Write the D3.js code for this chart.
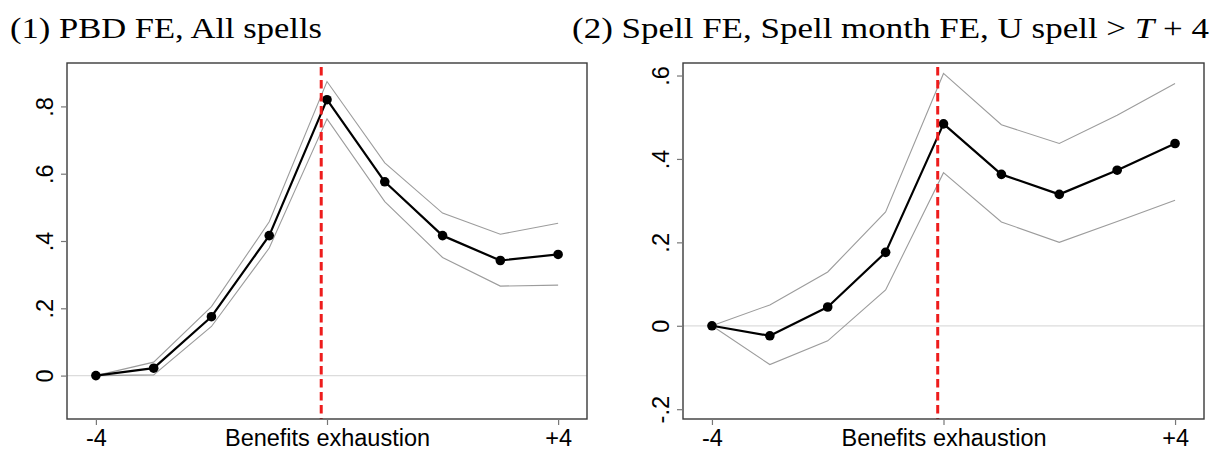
<!DOCTYPE html>
<html>
<head>
<meta charset="utf-8">
<script src="https://cdn.jsdelivr.net/npm/d3@7"></script>
<style>
  html, body { margin: 0; padding: 0; background: #fff; }
  svg { display: block; }
</style>
</head>
<body>
<svg id="chart" width="1220" height="451"></svg>
<script>
// Event time relative to benefits exhaustion (months)
const steps = [-4, -3, -2, -1, 0, 1, 2, 3, 4];
const xTickValues = [-4, 0, 4];
const xTickLabels = ["-4", "Benefits exhaustion", "+4"];
const exhaustionAt = -0.1;

// (1) PBD FE, all spells
const pbdEstimate = [0, 0.022, 0.175, 0.416, 0.820, 0.576, 0.416, 0.342, 0.360];
const pbdUpper    = [0, 0.040, 0.205, 0.457, 0.874, 0.632, 0.483, 0.420, 0.453];
const pbdLower    = [0, 0.002, 0.146, 0.379, 0.763, 0.517, 0.351, 0.266, 0.269];
const pbdYTicks = [0, 0.2, 0.4, 0.6, 0.8];
const pbdYTickLabels = ["0", ".2", ".4", ".6", ".8"];

// (2) Spell FE, spell month FE, long spells
const spellEstimate = [0, -0.024, 0.045, 0.176, 0.484, 0.363, 0.315, 0.373, 0.437];
const spellUpper    = [0, 0.050, 0.129, 0.273, 0.605, 0.482, 0.437, 0.505, 0.581];
const spellLower    = [0, -0.093, -0.036, 0.086, 0.367, 0.249, 0.200, 0.250, 0.301];
const spellYTicks = [-0.2, 0, 0.2, 0.4, 0.6];
const spellYTickLabels = ["-.2", "0", ".2", ".4", ".6"];

const svg = d3.select("#chart");
const tickFont = "'Liberation Sans', Arial, sans-serif";

const panels = [
  {
    box: { left: 67, right: 587, top: 63, bottom: 419 },
    yDomain: [-0.129, 0.929],
    est: pbdEstimate, upper: pbdUpper, lower: pbdLower,
    yTicks: pbdYTicks, yLabels: pbdYTickLabels
  },
  {
    box: { left: 683, right: 1204, top: 63, bottom: 419 },
    yDomain: [-0.2235, 0.63],
    est: spellEstimate, upper: spellUpper, lower: spellLower,
    yTicks: spellYTicks, yLabels: spellYTickLabels
  }
];

function drawPanel(p) {
  const b = p.box;
  const x = d3.scaleLinear().domain([-4.5, 4.5]).range([b.left, b.right]);
  const y = d3.scaleLinear().domain(p.yDomain).range([b.bottom, b.top]);
  const g = svg.append("g");

  // zero reference line
  g.append("line")
    .attr("x1", b.left).attr("x2", b.right)
    .attr("y1", y(0)).attr("y2", y(0))
    .attr("stroke", "#dcdcdc").attr("stroke-width", 1.2);

  const line = d3.line().x((d, i) => x(steps[i])).y(d => y(d));

  // confidence bounds
  [p.upper, p.lower].forEach(arr => {
    g.append("path").datum(arr)
      .attr("d", line)
      .attr("fill", "none")
      .attr("stroke", "#9c9c9c")
      .attr("stroke-width", 1.1);
  });

  // point estimates
  g.append("path").datum(p.est)
    .attr("d", line)
    .attr("fill", "none")
    .attr("stroke", "#000")
    .attr("stroke-width", 2.2)
    .attr("stroke-linejoin", "round");

  g.selectAll("circle.pt").data(p.est).enter()
    .append("circle")
    .attr("class", "pt")
    .attr("cx", (d, i) => x(steps[i]))
    .attr("cy", d => y(d))
    .attr("r", 4.8)
    .attr("fill", "#000");

  // benefits exhaustion marker
  g.append("line")
    .attr("x1", x(exhaustionAt)).attr("x2", x(exhaustionAt))
    .attr("y1", b.top + 4).attr("y2", b.bottom)
    .attr("stroke", "#ee1c1c")
    .attr("stroke-width", 3)
    .attr("stroke-dasharray", "8.5,4.5");

  // frame
  g.append("rect")
    .attr("x", b.left).attr("y", b.top)
    .attr("width", b.right - b.left).attr("height", b.bottom - b.top)
    .attr("fill", "none")
    .attr("stroke", "#3a3a3a")
    .attr("stroke-width", 1.4);

  // x axis
  const xAxis = d3.axisBottom(x)
    .tickValues(xTickValues)
    .tickFormat((d, i) => xTickLabels[i])
    .tickSize(6).tickPadding(4);
  const xg = g.append("g").attr("transform", `translate(0,${b.bottom})`).call(xAxis);
  xg.select(".domain").remove();
  xg.selectAll(".tick line").attr("stroke", "#777").attr("stroke-width", 1.2);
  xg.selectAll(".tick text")
    .attr("fill", "#000")
    .style("font-family", tickFont)
    .style("font-size", "23.5px");

  // y axis with rotated labels
  const yAxis = d3.axisLeft(y)
    .tickValues(p.yTicks)
    .tickFormat((d, i) => p.yLabels[i])
    .tickSize(6);
  const yg = g.append("g").attr("transform", `translate(${b.left},0)`).call(yAxis);
  yg.select(".domain").remove();
  yg.selectAll(".tick line").attr("stroke", "#777").attr("stroke-width", 1.2);
  yg.selectAll(".tick text")
    .attr("x", null).attr("dy", null)
    .attr("transform", "translate(-14,0) rotate(-90)")
    .attr("text-anchor", "middle")
    .attr("fill", "#000")
    .style("font-family", tickFont)
    .style("font-size", "23.5px");
}

panels.forEach(drawPanel);

// panel titles
const titleFont = "'Liberation Serif', 'Times New Roman', serif";
svg.append("text")
  .attr("x", 10).attr("y", 38)
  .attr("textLength", 312).attr("lengthAdjust", "spacingAndGlyphs")
  .style("font-family", titleFont).style("font-size", "29px")
  .text("(1) PBD FE, All spells");

const t2 = svg.append("text")
  .attr("x", 572).attr("y", 38)
  .attr("textLength", 637).attr("lengthAdjust", "spacingAndGlyphs")
  .style("font-family", titleFont).style("font-size", "29px");
t2.append("tspan").text("(2) Spell FE, Spell month FE, U spell > ");
t2.append("tspan").style("font-style", "italic").text("T");
t2.append("tspan").text(" + 4");
</script>
</body>
</html>
